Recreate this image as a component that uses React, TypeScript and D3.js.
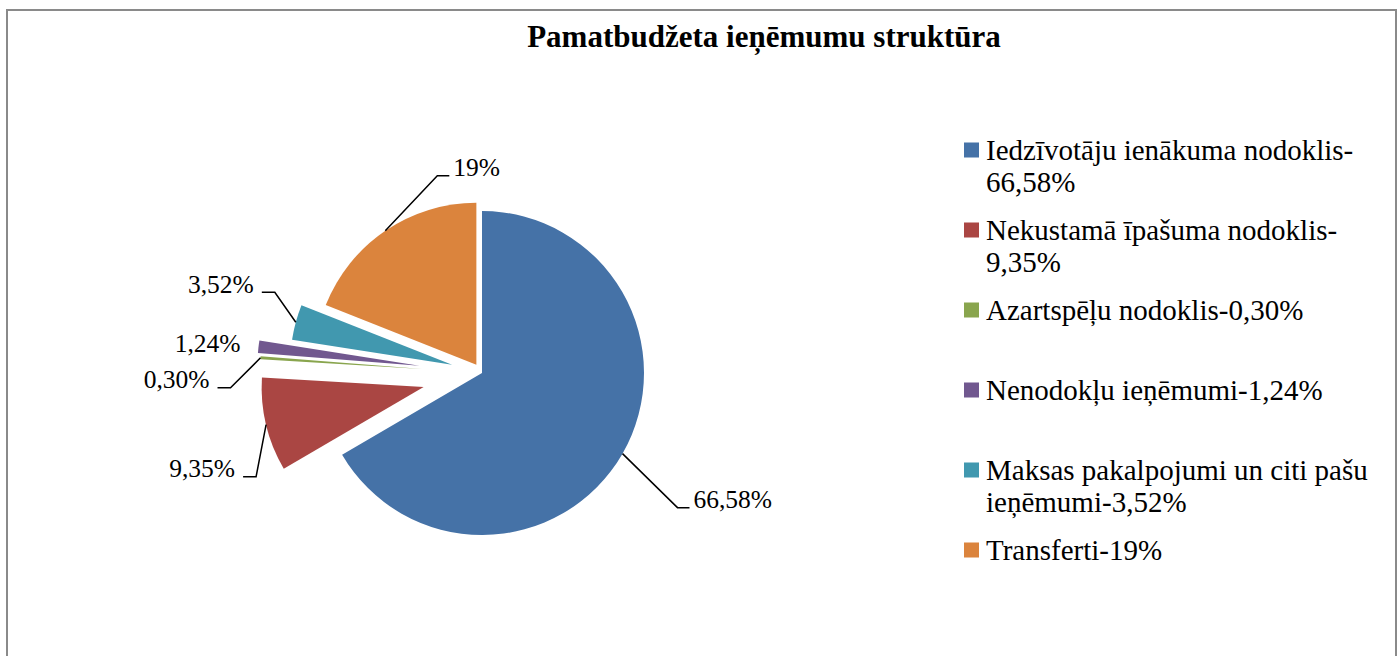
import React from "react";
import * as d3 from "d3";

const title = "Pamatbudžeta ieņēmumu struktūra";
const categories = [
  "Iedzīvotāju ienākuma nodoklis",
  "Nekustamā īpašuma nodoklis",
  "Azartspēļu nodoklis",
  "Nenodokļu ieņēmumi",
  "Maksas pakalpojumi un citi pašu ieņēmumi",
  "Transferti",
];
const values = [66.58, 9.35, 0.3, 1.24, 3.52, 19];
const valueLabels = ["66,58%", "9,35%", "0,30%", "1,24%", "3,52%", "19%"];

const colors = ["#4572A7", "#AA4643", "#89A54E", "#71588F", "#4198AF", "#DB843D"];
const explode = [0, 60, 60, 63, 31, 10];
// leader elbow offset from arc midpoint (null = no leader)
const leaderElbow: ([number, number] | null)[] = [[55, 54], [-10, 52], [-30, 30], null, [-21, -30], [52, -55]];

const W = 1398;
const H = 656;
const cx = 482;
const cy = 373;
const R = 162;
const FONT = "'Liberation Serif', 'Times New Roman', serif";
const LEGEND_SIZE = 29;
const LABEL_SIZE = 25.5;

function wrapText(text: string, maxWidth: number, fontSize: number): string[] {
  const canvas = document.createElement("canvas");
  const ctx = canvas.getContext("2d")!;
  ctx.font = `${fontSize}px 'Liberation Serif'`;
  const tokens = text.match(/[^\s-]+-?|\s+/g) || [text];
  const lines: string[] = [];
  let cur = "";
  for (const t of tokens) {
    const test = cur + t;
    if (ctx.measureText(test.trimEnd()).width > maxWidth && cur.trim() !== "") {
      lines.push(cur.trimEnd());
      cur = t.trimStart();
    } else {
      cur = test;
    }
  }
  if (cur.trim() !== "") lines.push(cur.trimEnd());
  return lines;
}

export default function App() {
  const pie = d3.pie<number>().sort(null).startAngle(0).endAngle(2 * Math.PI).value((d) => d);
  const arcs = pie(values);
  const arc = d3.arc<d3.PieArcDatum<number>>().innerRadius(0).outerRadius(R);

  return (
    <svg width={W} height={H} style={{ position: "absolute", left: 0, top: 0, background: "#fff" }}>
      <rect x={7} y={10} width={1389} height={700} fill="#fff" stroke="#8a8a8a" strokeWidth={2} />
      <text x={764} y={47} textAnchor="middle" fontFamily={FONT} fontWeight="bold" fontSize={31} fill="#000">
        {title}
      </text>
      {arcs.map((a, i) => {
        const mid = (a.startAngle + a.endAngle) / 2;
        const dx = Math.sin(mid);
        const dy = -Math.cos(mid);
        const ox = cx + explode[i] * dx;
        const oy = cy + explode[i] * dy;
        return (
          <path key={"s" + i} d={arc(a) || ""} transform={`translate(${ox},${oy})`} fill={colors[i]} />
        );
      })}
      {arcs.map((a, i) => {
        const mid = (a.startAngle + a.endAngle) / 2;
        const dx = Math.sin(mid);
        const dy = -Math.cos(mid);
        const mx = cx + (explode[i] + R) * dx;
        const my = cy + (explode[i] + R) * dy;
        const el = leaderElbow[i];
        if (!el) {
          return (
            <text key={"l" + i} x={mx - 18} y={my + 5} textAnchor="end" fontFamily={FONT} fontSize={LABEL_SIZE} fill="#000">
              {valueLabels[i]}
            </text>
          );
        }
        const ex = mx + el[0];
        const ey = my + el[1];
        const right = el[0] > 0;
        const hx = right ? ex + 12 : ex - 13;
        const tx = right ? hx + 4 : hx - 8;
        return (
          <g key={"l" + i}>
            <polyline points={`${mx},${my} ${ex},${ey} ${hx},${ey}`} fill="none" stroke="#000" strokeWidth={1.5} />
            <text x={tx} y={ey + 0.5} textAnchor={right ? "start" : "end"} fontFamily={FONT} fontSize={LABEL_SIZE} fill="#000">
              {valueLabels[i]}
            </text>
          </g>
        );
      })}
      {categories.map((c, i) => {
        const yc = 150 + i * 80;
        const lines = wrapText(`${c}-${valueLabels[i]}`, 405, LEGEND_SIZE);
        return (
          <g key={"lg" + i}>
            <rect x={964} y={yc - 7.5} width={15} height={15} fill={colors[i]} />
            <text x={986} y={yc + 10} fontFamily={FONT} fontSize={LEGEND_SIZE} fill="#000">
              {lines.map((ln, j) => (
                <tspan key={j} x={986} dy={j === 0 ? 0 : 31.6}>
                  {ln}
                </tspan>
              ))}
            </text>
          </g>
        );
      })}
    </svg>
  );
}
